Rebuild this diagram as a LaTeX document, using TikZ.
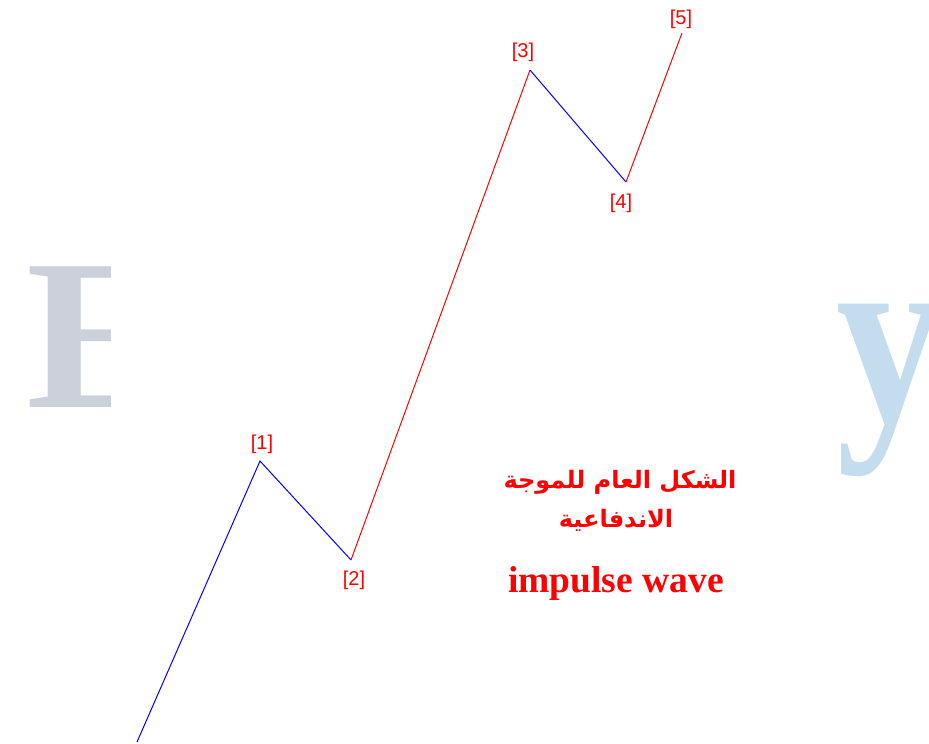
\documentclass[tikz,border=0pt]{standalone}
\usepackage{fontspec}
\setmainfont{Liberation Serif}
\newfontfamily\lblfont{Liberation Sans}
\newfontfamily\arabicfont[Script=Arabic]{DejaVu Sans}
\TeXXeTstate=1
\definecolor{wmgray}{RGB}{203,208,218}
\definecolor{wmblue}{RGB}{195,220,238}
\definecolor{wred}{RGB}{255,0,0}
\definecolor{wblue}{RGB}{0,0,255}
\begin{document}
\begin{tikzpicture}[x=1pt,y=-1pt,
  lbl/.style={text=wred,font=\lblfont\fontsize{20}{22}\selectfont,inner sep=0pt},
  upw/.style={draw=wblue,line width=1pt},
  redw/.style={draw=wred,line width=1pt},
  wm/.style={anchor=base west,inner sep=0pt,font=\bfseries\fontsize{215}{215}\selectfont}]
\useasboundingbox (0,0) rectangle (929,744);
% watermark letters
\begin{scope}
\clip (0,0) rectangle (110,744);
\node[wm,text=wmgray] (wE) at (26,407) {E};
\end{scope}
\node[wm,text=wmblue,yscale=1.19,transform shape] (wy) at (836,421) {y};
% wave points
\coordinate (p0) at (137,742);
\coordinate (p1) at (260,461);
\coordinate (p2) at (351,560);
\coordinate (p3) at (530,70);
\coordinate (p4) at (626,182);
\coordinate (p5) at (682,33);
\draw[upw] (p0) -- (p1) -- (p2);
\draw[redw] (p2) -- (p3);
\draw[upw] (p3) -- (p4);
\draw[redw] (p4) -- (p5);
% labels
\node[lbl] (l1) at (262,444) {[1]};
\node[lbl] (l2) at (354,580) {[2]};
\node[lbl] (l3) at (523,52) {[3]};
\node[lbl] (l4) at (621,203) {[4]};
\node[lbl] (l5) at (681,19) {[5]};
% caption
\node[text=wred,font=\arabicfont\bfseries\fontsize{24}{28}\selectfont,inner sep=0pt] (ar1) at (620,482) {\beginR الشكل العام للموجة\endR};
\node[text=wred,font=\arabicfont\bfseries\fontsize{24}{28}\selectfont,inner sep=0pt] (ar2) at (616,520) {\beginR الاندفاعية\endR};
\node[text=wred,font=\bfseries\fontsize{37.5}{40}\selectfont,inner sep=0pt] (en) at (616,583) {impulse wave};
\end{tikzpicture}
\end{document}
